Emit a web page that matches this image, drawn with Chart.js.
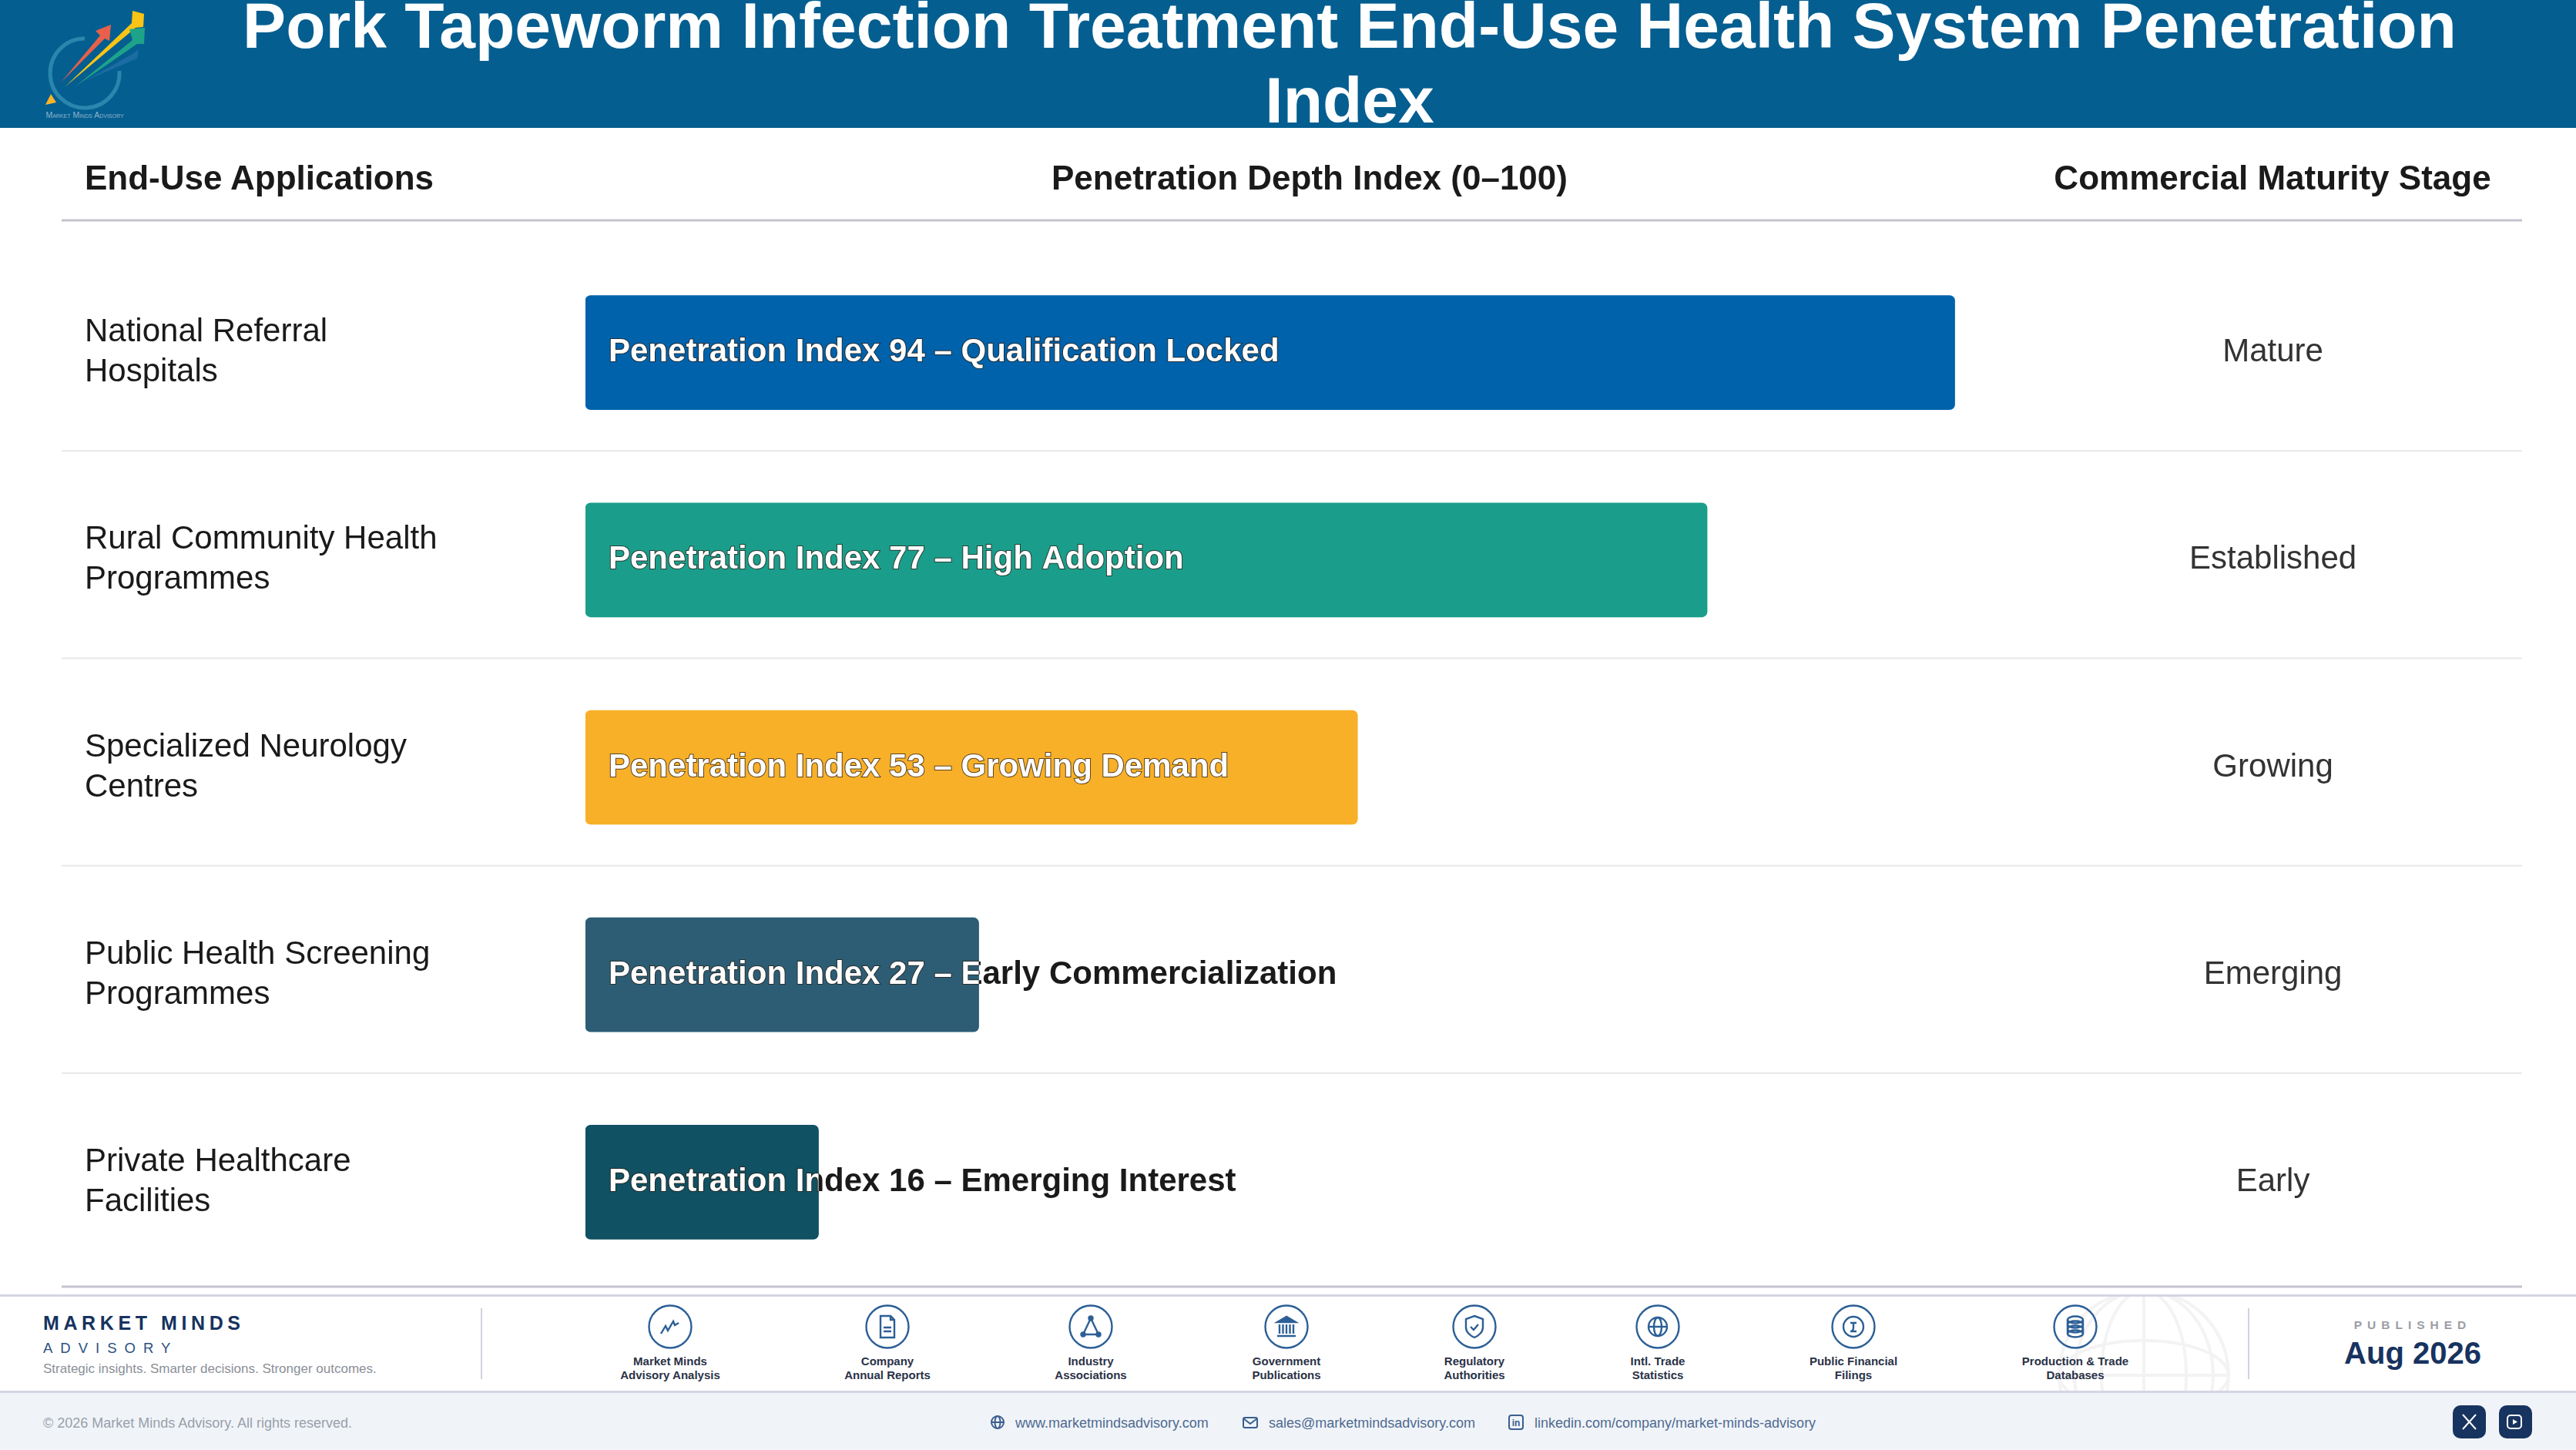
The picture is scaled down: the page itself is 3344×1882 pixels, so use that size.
<!DOCTYPE html>
<html>
<head>
<meta charset="utf-8">
<title>Pork Tapeworm Infection Treatment End-Use Health System Penetration Index</title>
<script src="https://cdn.jsdelivr.net/npm/chart.js@4"></script>
<style>
  html, body { margin: 0; padding: 0; background: #fff; }
  body { width: 3344px; height: 1882px; position: relative; overflow: hidden; font-family: "Liberation Sans", Arial, sans-serif; }
  .abs { position: absolute; white-space: nowrap; }
  #chartBox { position: absolute; left: 0; top: 0; width: 3344px; height: 1882px; }
  #header { position: absolute; left: 0; top: 0; width: 3344px; height: 166px; background: #055e90; overflow: hidden; }
  #title { position: absolute; left: 0; top: -15px; width: 3504px; text-align: center; color: #fff; font-weight: 700; font-size: 84px; line-height: 97px; }
  .colHead { font-weight: 700; font-size: 44px; color: #1a1a1a; line-height: 52px; top: 205px; }
  #footer { position: absolute; left: 0; top: 1680px; width: 3344px; height: 128px; border-top: 3px solid #d3d5e3; border-bottom: 3px solid #d3d5e3; box-sizing: border-box; overflow: hidden; background: #fff; }
  #strip { position: absolute; left: 0; top: 1808px; width: 3344px; height: 74px; background: #f0f4f9; }
  .src { position: absolute; top: 1758px; width: 240px; text-align: center; font-weight: 700; font-size: 15px; line-height: 18px; color: #2a3247; }
  .divider { position: absolute; top: 1698px; width: 2px; height: 92px; background: #d0d3dc; }
  .contact { position: absolute; top: 1836px; font-size: 18px; line-height: 22px; color: #4f6a8f; white-space: nowrap; }
  .social { position: absolute; top: 1824px; width: 43px; height: 43px; border-radius: 10px; background: #17335f; }
</style>
</head>
<body>
<div id="chartBox"><canvas id="myChart"></canvas></div>

<div id="header">
  <div id="title">Pork Tapeworm Infection Treatment End-Use Health System Penetration<br>Index</div>
  <svg class="abs" style="left:0;top:0" width="220" height="166">
    <path d="M110 50 A45 45 0 1 0 155 92" fill="none" stroke="#2a86ad" stroke-width="5"/>
    <polygon points="110,105 172,70 180,64 178,76" fill="#1a6ca3"/>
    <polygon points="79,107 130,46 124,40 144,32 142,53 136,50" fill="#e8604a"/>
    <polygon points="84,113 171,30 172,14 187,18 186,35 176,36" fill="#f9c416"/>
    <polygon points="98,112 172,52 168,38 188,36 187,57 178,57" fill="#1ea389"/>
    <polygon points="66,122 73,133 59,136" fill="#f9b429"/>
    <text x="110" y="153" text-anchor="middle" font-size="10.5" fill="#8fb4cc" font-family="Liberation Sans" style="font-variant:small-caps">Market Minds Advisory</text>
  </svg>
</div>

<div class="abs colHead" style="left:110px">End-Use Applications</div>
<div class="abs colHead" style="left:1200px;width:1000px;text-align:center">Penetration Depth Index (0–100)</div>
<div class="abs colHead" style="left:2450px;width:1000px;text-align:center">Commercial Maturity Stage</div>

<div id="footer">
  <svg class="abs" style="left:2660px;top:-20px" width="250" height="240" fill="none" stroke="#f3f3f4" stroke-width="4">
    <circle cx="123" cy="122" r="110"/>
    <ellipse cx="123" cy="122" rx="55" ry="110"/>
    <ellipse cx="123" cy="122" rx="90" ry="110"/>
    <ellipse cx="123" cy="122" rx="110" ry="45" />
    <line x1="13" y1="122" x2="233" y2="122"/>
    <line x1="123" y1="12" x2="123" y2="232"/>
  </svg>
</div>
<div id="strip"></div>

<div class="divider" style="left:624px"></div>
<div class="divider" style="left:2918px"></div>

<div class="abs" style="left:56px;top:1702px;font-weight:700;font-size:25px;line-height:30px;letter-spacing:5.6px;color:#17335f">MARKET MINDS</div>
<div class="abs" style="left:56px;top:1739px;font-size:18.5px;line-height:22px;letter-spacing:10px;color:#2c4f80">ADVISORY</div>
<div class="abs" style="left:56px;top:1767px;font-size:17px;line-height:20px;color:#8b8f98">Strategic insights. Smarter decisions. Stronger outcomes.</div>

<div class="abs" style="left:2932px;width:400px;text-align:center;top:1711px;font-weight:700;font-size:15.5px;line-height:18px;letter-spacing:7px;color:#9a9da5">PUBLISHED</div>
<div class="abs" style="left:2932px;width:400px;text-align:center;top:1733px;font-weight:700;font-size:40px;line-height:46px;color:#17335f">Aug 2026</div>

<div class="abs" style="left:56px;top:1836px;font-size:18px;line-height:22px;color:#9a9fa9">© 2026 Market Minds Advisory. All rights reserved.</div>
<div class="contact" style="left:1318px">www.marketmindsadvisory.com</div>
<div class="contact" style="left:1647px">sales@marketmindsadvisory.com</div>
<div class="contact" style="left:1992px">linkedin.com/company/market-minds-advisory</div>

<svg class="abs" style="left:0;top:1830px" width="2100" height="32" fill="none" stroke="#3a5f8f" stroke-width="2">
  <circle cx="1295" cy="16" r="8"/><ellipse cx="1295" cy="16" rx="3.5" ry="8"/><line x1="1287" y1="16" x2="1303" y2="16"/>
  <rect x="1614" y="10" width="18" height="13" rx="2"/><path d="M1614 11 L1623 18 L1632 11"/>
  <rect x="1959" y="7" width="18" height="18" rx="3"/>
  <text x="1968" y="21" text-anchor="middle" font-size="12" font-weight="700" fill="#3a5f8f" stroke="none" font-family="Liberation Sans">in</text>
</svg>

<div class="social" style="left:3184px"></div>
<div class="social" style="left:3244px"></div>
<svg class="abs" style="left:3184px;top:1824px" width="103" height="43" fill="none" stroke="#fff" stroke-width="2">
  <path d="M13 12 L30 31 M30 12 L13 31"/>
  <rect x="71" y="13" width="18" height="17" rx="4"/>
  <polygon points="78,18 84,21.5 78,25" fill="#fff" stroke="none"/>
</svg>

<svg id="iconLayer" class="abs" style="left:0;top:1690px" width="3000" height="64" fill="none" stroke="#2c5f96" stroke-width="2.4"></svg>

<script>
// chart values
const categories = [
  ['National Referral', 'Hospitals'],
  ['Rural Community Health', 'Programmes'],
  ['Specialized Neurology', 'Centres'],
  ['Public Health Screening', 'Programmes'],
  ['Private Healthcare', 'Facilities']
];
const indexValues = [94, 77, 53, 27, 16];
const barNotes = ['Qualification Locked', 'High Adoption', 'Growing Demand', 'Early Commercialization', 'Emerging Interest'];
const maturityStages = ['Mature', 'Established', 'Growing', 'Emerging', 'Early'];
const barColors = ['#0062ab', '#1a9e8b', '#f8b029', '#2c5d75', '#105163'];

// footer sources
const sourceLabels = [
  ['Market Minds', 'Advisory Analysis'],
  ['Company', 'Annual Reports'],
  ['Industry', 'Associations'],
  ['Government', 'Publications'],
  ['Regulatory', 'Authorities'],
  ['Intl. Trade', 'Statistics'],
  ['Public Financial', 'Filings'],
  ['Production & Trade', 'Databases']
];
const sourceX = [870, 1152, 1416, 1670, 1914, 2152, 2406, 2694];

// simple line icons, drawn round 0,0
const sourceIcons = [
  '<path d="M-12 9 L-6 -1 L-3 5 L4 -7 L6 -2 L11 -5" />',
  '<path d="M-9 -14 H4 L9 -9 V14 H-9 Z M4 -14 V-9 H9 M-5 1 H5 M-5 6 H5"/>',
  '<path d="M0 -11 L-10 10 H10 Z"/><circle cx="0" cy="-11" r="2.5" fill="#2c5f96"/><circle cx="-10" cy="10" r="2.5" fill="#2c5f96"/><circle cx="10" cy="10" r="2.5" fill="#2c5f96"/>',
  '<polygon points="0,-13 -12,-6 12,-6" fill="#2c5f96"/><path d="M-9 -3 V9 M-4.500 -3 V9 M0 -3 V9 M4.500 -3 V9 M9 -3 V9 M-12 12 H12"/>',
  '<path d="M0 -14 L11 -10 V1 C11 7 5 12 0 14 C-5 12 -11 7 -11 1 V-10 Z"/><path d="M-5 0 L-1 4 L5 -3"/>',
  '<circle r="12"/><ellipse rx="5" ry="12"/><line x1="-12" x2="12"/>',
  '<circle r="13"/><path d="M-4 -5 H4 M0 -5 V2 C0 4 -2 6 -4 6 H4"/>',
  '<ellipse cy="-9" rx="10" ry="4.500"/><ellipse cy="-3" rx="10" ry="4.500"/><ellipse cy="3" rx="10" ry="4.500"/><ellipse cy="9" rx="10" ry="4.500"/><path d="M-10 -9 V9 M10 -9 V9"/>'
];

// footer row
let iconSvg = '';
sourceX.forEach((x, i) => {
  iconSvg += `<g transform="translate(${x},32)"><circle r="27.500"/>${sourceIcons[i]}</g>`;
  const div = document.createElement('div');
  div.className = 'src';
  div.style.left = x - 120 + 'px';
  div.innerHTML = sourceLabels[i].join('<br>').replace('&', '&amp;');
  document.body.appendChild(div);
});
document.getElementById('iconLayer').innerHTML = iconSvg;

const font = '"Liberation Sans", Arial, sans-serif';

// labels inside bars: dark text, then white again clipped to the bar
const barTextPlugin = {
  id: 'barText',
  afterDatasetsDraw(chart) {
    const { ctx } = chart;
    chart.getDatasetMeta(0).data.forEach((bar, i) => {
      const text = `Penetration Index ${indexValues[i]} – ${barNotes[i]}`;
      const left = bar.base;
      const top = bar.y - bar.height / 2;
      ctx.save();
      ctx.font = `bold 42px ${font}`;
      ctx.textBaseline = 'middle';
      ctx.fillStyle = '#1a1a1a';
      ctx.fillText(text, left + 30, bar.y);
      ctx.beginPath();
      ctx.rect(left, top, bar.x - left, bar.height);
      ctx.clip();
      ctx.lineWidth = 2;
      ctx.strokeStyle = 'rgba(40,30,20,0.75)';
      ctx.strokeText(text, left + 30, bar.y);
      ctx.fillStyle = '#fff';
      ctx.fillText(text, left + 30, bar.y);
      ctx.restore();
    });
  }
};

// row separators and the two heavier rules
const rulesPlugin = {
  id: 'rules',
  beforeDatasetsDraw(chart) {
    const { ctx } = chart;
    const y = chart.scales.y;
    const rowH = y.getPixelForValue(1) - y.getPixelForValue(0);
    const line = (py, color, w) => {
      ctx.fillStyle = color;
      ctx.fillRect(80, py - w / 2, 3194, w);
    };
    ctx.save();
    for (let i = 0; i < categories.length - 1; i++) {
      line(y.getPixelForValue(i) + rowH / 2 - 7, '#e8e8ea', 2);
    }
    line(286, '#c4c5cf', 3);
    line(1670, '#c4c5cf', 3);
    ctx.restore();
  }
};

const config = {
  type: 'bar',
  data: {
    labels: categories,
    datasets: [
      {
        data: indexValues,
        backgroundColor: barColors,
        barThickness: 148,
        borderRadius: 7,
        borderSkipped: false,
        yAxisID: 'y'
      }
    ]
  },
  options: {
    indexAxis: 'y',
    responsive: true,
    maintainAspectRatio: false,
    animation: false,
    layout: { padding: { left: 110, top: 323, bottom: 213, right: 0 } },
    plugins: { legend: { display: false }, tooltip: { enabled: false } },
    scales: {
      x: {
        min: 0,
        max: 100,
        display: false
      },
      y: {
        position: 'left',
        grid: { display: false, drawTicks: false },
        border: { display: false },
        afterFit: (scale) => { scale.width = 650; },
        ticks: {
          crossAlign: 'far',
          autoSkip: false,
          font: { family: font, size: 42, lineHeight: 1.24 },
          color: '#1a1a1a'
        }
      },
      y2: {
        type: 'category',
        labels: maturityStages,
        position: 'right',
        offset: true,
        grid: { display: false, drawTicks: false },
        border: { display: false },
        // the big tick padding must not eat into the plot height
        afterFit: (scale) => {
          scale.width = 693;
          scale.paddingTop = 0;
          scale.paddingBottom = 0;
        },
        ticks: {
          crossAlign: 'center',
          autoSkip: false,
          padding: 191,
          font: { family: font, size: 42 },
          color: '#333333'
        }
      }
    }
  },
  plugins: [rulesPlugin, barTextPlugin]
};

const ctx = document.getElementById('myChart').getContext('2d');
const myChart = new Chart(ctx, config);
</script>
</body>
</html>
